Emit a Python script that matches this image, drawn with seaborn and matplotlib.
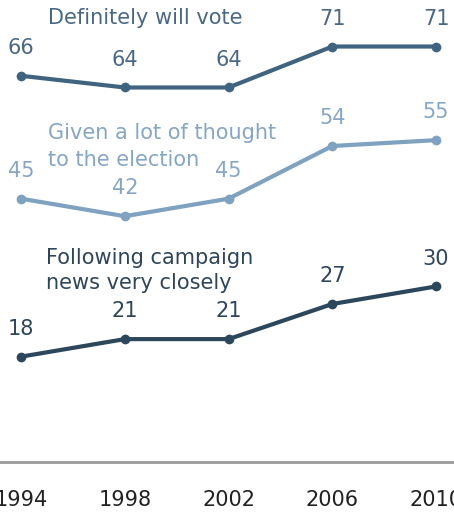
import pandas as pd
import matplotlib
matplotlib.use("Agg")
import matplotlib.pyplot as plt
import seaborn as sns

# survey years and series values (%)
years = [1994, 1998, 2002, 2006, 2010]
definitely_vote = [66, 64, 64, 71, 71]
lot_of_thought = [45, 42, 45, 54, 55]
following_news = [18, 21, 21, 27, 30]

series_names = ["Definitely will vote",
                "Given a lot of thought\nto the election",
                "Following campaign\nnews very closely"]

sns.set_style("white")
plt.rcParams['font.family'] = ['DejaVu Sans']

df = pd.DataFrame({
    "year": years * 3,
    "pct": definitely_vote + lot_of_thought + following_news,
    "series": [series_names[0]] * 5 + [series_names[1]] * 5 + [series_names[2]] * 5,
})

line_colors = ["#40647f", "#7ea2bf", "#2c475b"]
text_colors = ["#4a6886", "#86a6c4", "#2f4559"]
fs = 15

fig = plt.figure(figsize=(4.54, 5.12), dpi=100)
ax = fig.add_axes([0, 50 / 512, 1, 462 / 512])

sns.lineplot(data=df, x="year", y="pct", hue="series", palette=line_colors,
             marker="o", markersize=7, markeredgewidth=0, linewidth=3,
             legend=False, ax=ax)

# value labels above points
for vals, c in zip([definitely_vote, lot_of_thought, following_news], text_colors):
    for x, v in zip(years, vals):
        ax.annotate(str(v), (x, v), xytext=(0, 20), textcoords="offset points",
                    ha="center", va="center", fontsize=fs, color=c)

# series labels, one text per line
label_x = [1995.05, 1995.05, 1994.95]
label_y = [75.9, 56.2, 34.85]   # y of first line
line_step = [0, 4.6, 4.3]       # gap between lines in data units
for name, lx, ly, step, c in zip(series_names, label_x, label_y, line_step, text_colors):
    for i, part in enumerate(name.split("\n")):
        ax.text(lx, ly - i * step, part, fontsize=fs, color=c,
                va="center", ha="left")

ax.set_xlim(1993.19, 2010.69)
ax.set_ylim(0, 78.95)
ax.set_xticks(years)
ax.set_xticklabels([str(y) for y in years], fontsize=fs, color="#222222")
ax.tick_params(axis="x", length=0, pad=20)
ax.set_yticks([])
ax.set_xlabel("")
ax.set_ylabel("")
for s in ["top", "left", "right"]:
    ax.spines[s].set_visible(False)
ax.spines["bottom"].set_color("#9a9a9a")
ax.spines["bottom"].set_linewidth(2)

fig.savefig("out.png", dpi=100)
